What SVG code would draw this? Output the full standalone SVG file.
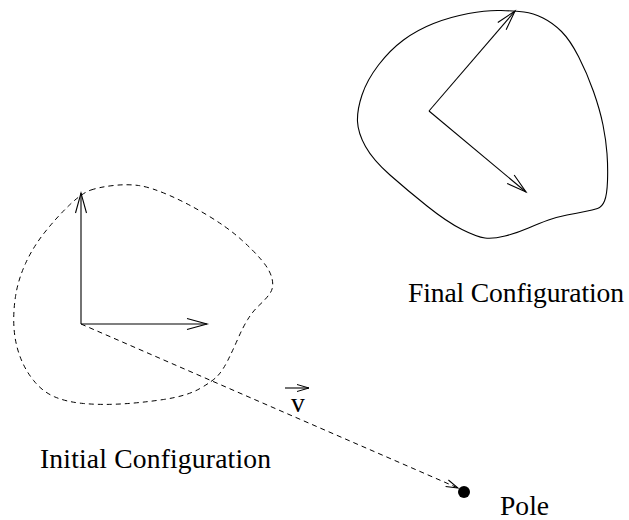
<svg xmlns="http://www.w3.org/2000/svg" width="629" height="520" viewBox="0 0 629 520">
<style>
.ln{fill:none;stroke:#000;stroke-width:1.1}
.dash{fill:none;stroke:#000;stroke-width:1;stroke-dasharray:5 4}
.lbl{font-family:"Liberation Serif","Times New Roman",serif;font-size:27.6px;fill:#000}
</style>
<defs>
<marker id="ah" markerUnits="userSpaceOnUse" markerWidth="24" markerHeight="14" refX="0" refY="0" viewBox="-21 -7 24 14" orient="auto" overflow="visible">
<path d="M-20,-5.5 L0,0 L-20,5.5" fill="none" stroke="#000" stroke-width="1.1"/>
</marker>
<marker id="ahs" markerUnits="userSpaceOnUse" markerWidth="16" markerHeight="10" refX="0" refY="0" viewBox="-14 -5 16 10" orient="auto" overflow="visible">
<path d="M-12,-3.5 L0,0 L-12,3.5" fill="none" stroke="#000" stroke-width="1"/>
</marker>
</defs>
<rect width="629" height="520" fill="#fff"/>
<g id="initial-config">
<path class="dash" d="M91,190 Q100,187 113.5,185.5 Q127,184 138.5,185.5 Q150,187 168.5,195 Q187,203 207,215 Q227,227 240,238.5 Q253,250 261.5,260 Q270,270 272,278.5 Q274,287 270.5,292.5 Q267,298 260,304.5 Q253,311 248,319 Q243,327 238,338.5 Q233,350 228,360 Q223,370 218,375.5 Q213,381 200,388.5 Q187,396 163.5,399.5 Q140,403 120,404 Q100,405 83.5,403.5 Q67,402 55,397 Q43,392 34,381 Q25,370 20,356.5 Q15,343 14,328 Q13,313 15.5,296.5 Q18,280 25.5,263.5 Q33,247 45,232 Q57,217 69.5,205 Q82,193 91,190 Z"/>
<line class="ln" x1="81" y1="324" x2="81" y2="193" marker-end="url(#ah)"/>
<line class="ln" x1="81" y1="324" x2="207" y2="324" marker-end="url(#ah)"/>
<text class="lbl" x="40" y="468" textLength="231">Initial Configuration</text>
</g>
<g id="final-config">
<path class="ln" d="M524,12 Q533,13 543,18 Q553,23 561.5,31.5 Q570,40 578.5,56.5 Q587,73 593.5,91.5 Q600,110 603,125 Q606,140 607,153.5 Q608,167 607.5,181 Q607,195 604.5,201 Q602,207 597.5,208.5 Q593,210 585,211.5 Q577,213 567,215 Q557,217 548.5,220 Q540,223 528.5,228 Q517,233 505,236 Q493,239 485,238 Q477,237 462,229.5 Q447,222 427,206 Q407,190 390,175 Q373,160 365.5,146.5 Q358,133 357.5,121.5 Q357,110 362,95 Q367,80 378.5,65 Q390,50 403.5,40 Q417,30 433.5,23.5 Q450,17 468.5,13.5 Q487,10 501,10.5 Q515,11 524,12 Z"/>
<line class="ln" x1="429" y1="111" x2="515" y2="11" marker-end="url(#ah)"/>
<line class="ln" x1="429" y1="111" x2="526" y2="192" marker-end="url(#ah)"/>
<text class="lbl" x="408" y="302" textLength="216">Final Configuration</text>
</g>
<g id="pole">
<circle cx="464" cy="492" r="6" fill="#000"/>
<text class="lbl" x="500" y="515">Pole</text>
</g>
<g id="connectors">
<line class="dash" x1="81" y1="324" x2="458" y2="488" marker-end="url(#ahs)"/>
</g>
<g id="v-label">
<text class="lbl" x="298" y="412" text-anchor="middle">v</text>
<line class="ln" x1="285" y1="388" x2="309" y2="388" marker-end="url(#ahs)"/>
</g>
</svg>
